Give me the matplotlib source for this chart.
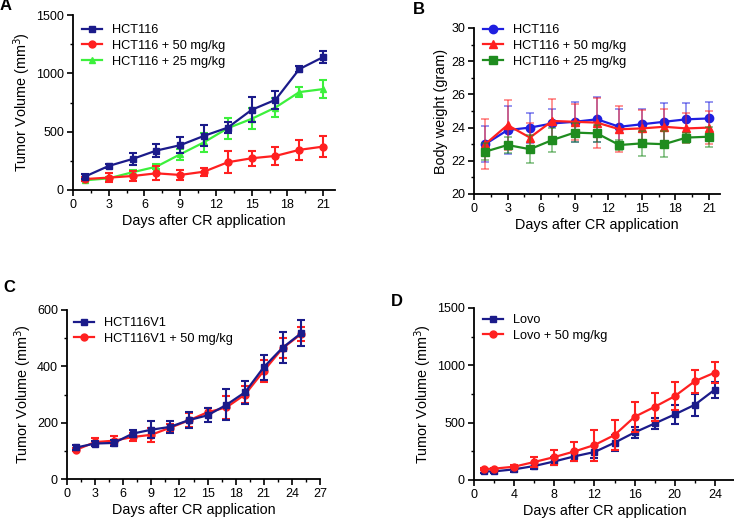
import numpy as np
import matplotlib.pyplot as plt
from matplotlib.ticker import MultipleLocator

plt.rcParams['font.family'] = ['Liberation Sans', 'DejaVu Sans']

# ---- Panel A: tumor volume HCT116 ----
dias_a = [1, 3, 5, 7, 9, 11, 13, 15, 17, 19, 21]
a_ctrl = [115, 206, 266, 338, 384, 464, 535, 687, 773, 1036, 1139]
a_ctrl_err = [20, 15, 55, 57, 67, 90, 50, 107, 75, 25, 52]
a_50 = [94, 106, 120, 143, 129, 157, 238, 272, 292, 344, 372]
a_50_err = [15, 40, 40, 60, 40, 35, 93, 65, 75, 88, 88]
a_25 = [83, 100, 152, 200, 306, 409, 530, 610, 707, 839, 865]
a_25_err = [10, 15, 20, 20, 45, 80, 90, 90, 85, 45, 75]

# ---- Panel B: peso corporal ----
dias_b = [1, 3, 5, 7, 9, 11, 13, 15, 17, 19, 21]
b_ctrl = [23.0, 23.85, 24.0, 24.25, 24.35, 24.5, 24.05, 24.2, 24.35, 24.5, 24.55]
b_ctrl_err = [1.1, 1.45, 0.9, 0.9, 1.2, 1.35, 1.1, 0.95, 1.15, 1.0, 1.0]
b_50 = [23.0, 24.15, 23.4, 24.4, 24.35, 24.3, 23.9, 23.95, 24.05, 23.95, 24.0]
b_50_err = [1.5, 1.5, 0.9, 1.3, 1.1, 1.5, 1.4, 1.1, 1.05, 0.9, 1.0]
b_25 = [22.55, 22.95, 22.7, 23.25, 23.7, 23.65, 22.95, 23.05, 23.0, 23.4, 23.45]
b_25_err = [0.5, 0.5, 0.85, 0.7, 0.55, 0.5, 0.3, 0.75, 0.8, 0.3, 0.6]

# ---- Panel C: HCT116V1 ----
dias_c = [1, 3, 5, 7, 9, 11, 13, 15, 17, 19, 21, 23, 25]
c_ctrl = [112, 126, 128, 161, 175, 185, 209, 226, 263, 308, 397, 466, 518]
c_ctrl_err = [8, 10, 10, 12, 30, 20, 28, 25, 55, 40, 45, 55, 45]
c_50 = [104, 131, 136, 149, 157, 182, 208, 237, 254, 300, 384, 464, 515]
c_50_err = [6, 15, 15, 15, 25, 15, 25, 15, 40, 30, 40, 35, 25]

# ---- Panel D: Lovo ----
dias_d = [1, 2, 4, 6, 8, 10, 12, 14, 16, 18, 20, 22, 24]
d_ctrl = [75, 75, 93, 122, 162, 206, 244, 325, 415, 493, 572, 656, 789]
d_ctrl_err = [15, 15, 20, 30, 35, 40, 55, 70, 50, 45, 85, 95, 70]
d_50 = [96, 99, 116, 157, 200, 249, 305, 392, 551, 638, 731, 862, 937]
d_50_err = [10, 10, 15, 45, 65, 85, 135, 130, 130, 125, 120, 100, 90]

NAVY = '#1b1b8a'
ROJO = '#ff2020'
VERDE_CLARO = '#3cf03c'
AZUL = '#1f1fe0'
VERDE = '#1f8c1f'

W, H = 734, 522
fig = plt.figure(figsize=(W / 100, H / 100), dpi=100)


def ejes(left, top, right, bottom):
    return fig.add_axes([left / W, 1 - bottom / H, (right - left) / W, (bottom - top) / H])


def estilo(ax, ylabel):
    for s in ['top', 'right']:
        ax.spines[s].set_visible(False)
    for s in ['left', 'bottom']:
        ax.spines[s].set_linewidth(1.3)
    ax.tick_params(which='major', direction='out', length=4.5, width=1.2, labelsize=9, pad=2)
    ax.tick_params(which='minor', direction='out', length=2.5, width=1.0)
    ax.set_xlabel('Days after CR application', fontsize=10.4, labelpad=2)
    ax.set_ylabel(ylabel, fontsize=10.4, labelpad=2)


def serie(ax, x, y, e, color, marker, label, ms=5, alpha=1.0, elw=1.5):
    # barras de error aparte para que la leyenda muestre solo linea + marcador
    ax.errorbar(x, y, yerr=e, fmt='none', ecolor=color, elinewidth=elw, capsize=3,
                capthick=elw, alpha=alpha, clip_on=False)
    ax.plot(x, y, color=color, marker=marker, markersize=ms, lw=1.6, label=label,
            clip_on=False)


def leyenda(ax, x, y, orden):
    h, l = ax.get_legend_handles_labels()
    ax.legend([h[i] for i in orden], [l[i] for i in orden], loc='upper left',
              frameon=False, fontsize=9.2, handlelength=1.6, handletextpad=0.75,
              labelspacing=0.3, borderaxespad=0, borderpad=0,
              bbox_to_anchor=(x / W, 1 - y / H), bbox_transform=fig.transFigure)


def letra(x, y, s):
    fig.text(x / W, 1 - y / H, s, fontsize=12, fontweight='bold', ha='center', va='center')


# A
ax = ejes(73, 15, 335, 190)
serie(ax, dias_a, a_25, a_25_err, VERDE_CLARO, '^', 'HCT116 + 25 mg/kg')
serie(ax, dias_a, a_50, a_50_err, ROJO, 'o', 'HCT116 + 50 mg/kg')
serie(ax, dias_a, a_ctrl, a_ctrl_err, NAVY, 's', 'HCT116')
ax.set_xlim(0, 22)
ax.set_ylim(0, 1500)
ax.xaxis.set_major_locator(MultipleLocator(3))
ax.xaxis.set_minor_locator(MultipleLocator(1.5))
ax.yaxis.set_major_locator(MultipleLocator(500))
ax.yaxis.set_minor_locator(MultipleLocator(250))
estilo(ax, 'Tumor Volume (mm$^3$)')
leyenda(ax, 82, 24, [2, 1, 0])
letra(6, 6, 'A')

# B
ax = ejes(474, 28, 720, 194)
serie(ax, dias_b, b_ctrl, b_ctrl_err, AZUL, 'o', 'HCT116', ms=6, alpha=0.55, elw=1.2)
serie(ax, dias_b, b_50, b_50_err, ROJO, '^', 'HCT116 + 50 mg/kg', ms=6, alpha=0.55, elw=1.2)
serie(ax, dias_b, b_25, b_25_err, VERDE, 's', 'HCT116 + 25 mg/kg', ms=6, alpha=0.55, elw=1.2)
ax.set_xlim(0, 22)
ax.set_ylim(20, 30)
ax.xaxis.set_major_locator(MultipleLocator(3))
ax.xaxis.set_minor_locator(MultipleLocator(1.5))
ax.yaxis.set_major_locator(MultipleLocator(2))
ax.yaxis.set_minor_locator(MultipleLocator(1))
estilo(ax, 'Body weight (gram)')
leyenda(ax, 483, 24, [0, 1, 2])
letra(419, 10, 'B')

# C
ax = ejes(67, 310, 320, 479)
serie(ax, dias_c, c_50, c_50_err, ROJO, 'o', 'HCT116V1 + 50 mg/kg')
serie(ax, dias_c, c_ctrl, c_ctrl_err, NAVY, 's', 'HCT116V1')
ax.set_xlim(0, 27)
ax.set_ylim(0, 600)
ax.xaxis.set_major_locator(MultipleLocator(3))
ax.xaxis.set_minor_locator(MultipleLocator(1.5))
ax.yaxis.set_major_locator(MultipleLocator(200))
ax.yaxis.set_minor_locator(MultipleLocator(100))
estilo(ax, 'Tumor Volume (mm$^3$)')
leyenda(ax, 74, 317, [1, 0])
letra(9, 288, 'C')

# D
ax = ejes(474, 308, 735, 480)
serie(ax, dias_d, d_ctrl, d_ctrl_err, NAVY, 's', 'Lovo')
serie(ax, dias_d, d_50, d_50_err, ROJO, 'o', 'Lovo + 50 mg/kg')
ax.set_xlim(0, 26)
ax.set_ylim(0, 1500)
ax.set_xticks([0, 4, 8, 12, 16, 20, 24])
ax.xaxis.set_minor_locator(MultipleLocator(2))
ax.yaxis.set_major_locator(MultipleLocator(500))
ax.yaxis.set_minor_locator(MultipleLocator(250))
estilo(ax, 'Tumor Volume (mm$^3$)')
leyenda(ax, 483, 314, [0, 1])
letra(397, 301, 'D')

fig.savefig('out.png', dpi=100)
